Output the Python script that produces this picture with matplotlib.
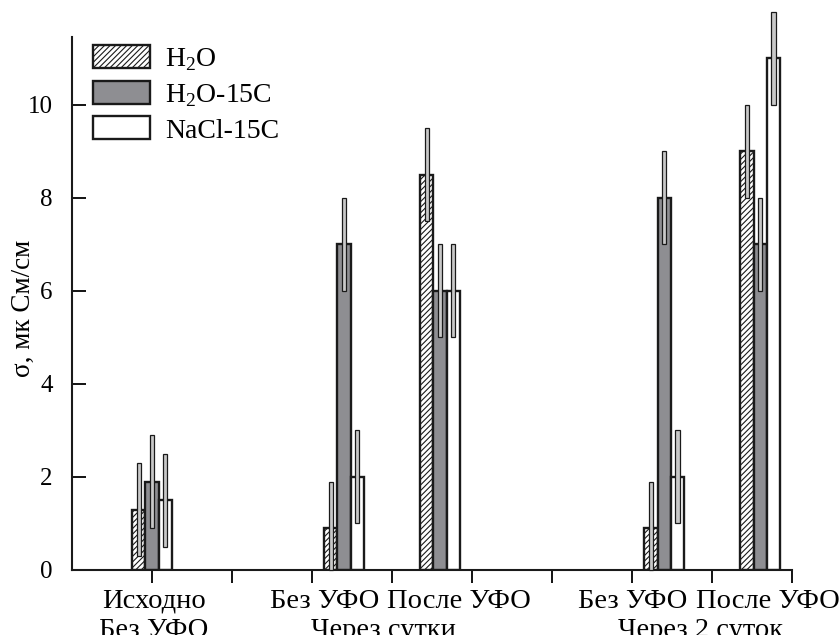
import numpy as np
import matplotlib.pyplot as plt
from matplotlib.transforms import blended_transform_factory

plt.rcParams['font.family'] = ['Liberation Serif', 'DejaVu Serif']
plt.rcParams['mathtext.fontset'] = 'custom'
plt.rcParams['mathtext.rm'] = 'Liberation Serif'
plt.rcParams['hatch.linewidth'] = 0.8

# data
series = ['H$_\\mathregular{2}$O', 'H$_\\mathregular{2}$O-15C', 'NaCl-15C']
group_pos = [0, 2.4, 3.6, 6.4, 7.6]
h2o = [1.3, 0.9, 8.5, 0.9, 9.0]
h2o_15c = [1.9, 7.0, 6.0, 8.0, 7.0]
nacl_15c = [1.5, 2.0, 6.0, 2.0, 11.0]
err = [1.0, 1.0, 1.0, 1.0, 1.0]

labels_top = ['Исходно', 'Без УФО', 'После УФО', 'Без УФО', 'После УФО']
labels_top_x = [0.02, 2.16, 3.84, 6.01, 7.69]
labels_bottom = ['Без УФО', 'Через сутки', 'Через 2 суток']
labels_bottom_x = [0.02, 2.89, 6.85]

fig = plt.figure(figsize=(8.39, 6.35), dpi=100)
ax = fig.add_axes([0.0858, 0.1024, 0.8584, 0.8393])

w = 0.165
x = np.array(group_pos)
styles = [dict(facecolor='white', hatch='//////'),
          dict(facecolor='#8e8e92'),
          dict(facecolor='white')]
for i, (vals, st) in enumerate(zip([h2o, h2o_15c, nacl_15c], styles)):
    xs = x + (i - 1) * w
    ax.bar(xs, vals, width=w, edgecolor='#1a1a1a', linewidth=1.7,
           label=series[i], zorder=2, **st)
    v = np.array(vals)
    e = np.array(err)
    lo = np.maximum(v - e, 0)
    ax.bar(xs, v + e - lo, bottom=lo, width=0.055, color='#c8c8c8',
           edgecolor='#1a1a1a', linewidth=0.9, zorder=3, clip_on=False)

ax.set_xlim(-1, 8)
ax.set_ylim(0, 11.46)
ax.set_xticks(np.arange(0, 9))
ax.set_xticklabels([])
ax.set_yticks(np.arange(0, 11, 2))
ax.tick_params(axis='y', direction='in', length=10, width=1.3, labelsize=18, pad=14)
ax.tick_params(axis='x', direction='out', length=9, width=1.3)
for s in ['top', 'right']:
    ax.spines[s].set_visible(False)
for s in ['left', 'bottom']:
    ax.spines[s].set_linewidth(1.5)
    ax.spines[s].set_color('#1a1a1a')

tr = blended_transform_factory(ax.transData, ax.transAxes)
for lx, lt in zip(labels_top_x, labels_top):
    ax.text(lx, -0.035, lt, transform=tr, ha='center', va='top', fontsize=20.5)
for lx, lt in zip(labels_bottom_x, labels_bottom):
    ax.text(lx, -0.09, lt, transform=tr, ha='center', va='top', fontsize=20.5)

ax.set_ylabel('σ, мк См/см', fontsize=19.5)
ax.yaxis.set_label_coords(-0.05, 0.49)

ax.legend(loc='upper left', bbox_to_anchor=(0.029, 0.985), frameon=False, fontsize=20,
          handlelength=2.05, handleheight=0.9, labelspacing=0.28, handletextpad=0.54,
          borderaxespad=0, borderpad=0)

fig.savefig('out.png', dpi=100)
